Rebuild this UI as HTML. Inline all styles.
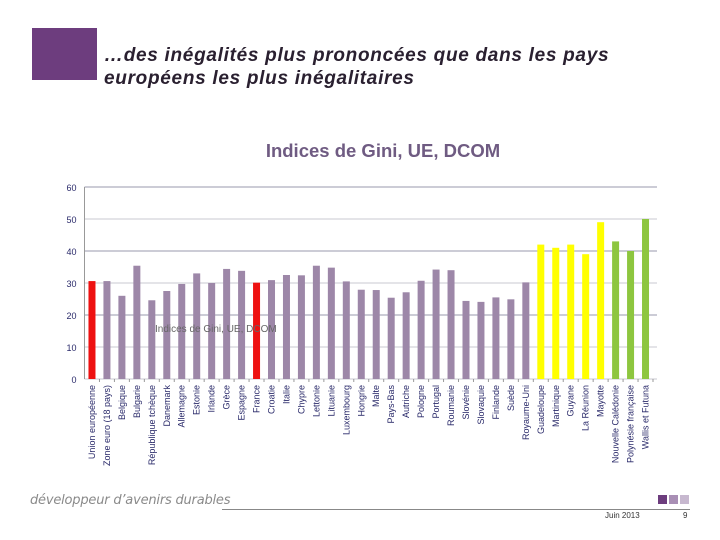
<!DOCTYPE html>
<html><head><meta charset="utf-8"><style>
body{margin:0;width:720px;height:540px;background:#fff;position:relative;overflow:hidden;font-family:"Liberation Sans",sans-serif}
.abs{position:absolute}
</style></head><body>
<div class="abs" style="left:32px;top:28px;width:65px;height:52px;background:#6d3d7e"></div>
<div class="abs" style="left:104px;top:44px;font-size:19px;font-weight:bold;font-style:italic;color:#2a2030;line-height:23px;letter-spacing:0.7px;white-space:nowrap">…des inégalités plus prononcées que dans les pays<br>européens les plus inégalitaires</div>
<svg class="abs" style="left:0;top:0" width="720" height="540">
<text x="383" y="157" text-anchor="middle" font-size="18.5" font-weight="bold" fill="#6f5b82" font-family="Liberation Sans,sans-serif">Indices de Gini, UE, DCOM</text>
<g id="grid"></g><g id="bars"></g><g id="labels"></g>
<text x="155" y="332" font-size="10" fill="#666" font-family="Liberation Sans,sans-serif">Indices de Gini, UE, DCOM</text>
</svg>
<div class="abs" style="left:30px;top:493px;font-size:13px;font-style:italic;color:#8a8a8a;font-family:'DejaVu Sans',sans-serif;letter-spacing:-0.2px">développeur d’avenirs durables</div>
<div class="abs" style="left:222px;top:509px;width:468px;height:1px;background:#888"></div>
<div class="abs" style="left:658px;top:495px;width:9px;height:9px;background:#6d3d7e"></div>
<div class="abs" style="left:669px;top:495px;width:9px;height:9px;background:#a98fb5"></div>
<div class="abs" style="left:680px;top:495px;width:9px;height:9px;background:#c7b8cf"></div>
<div class="abs" style="left:605px;top:511px;font-size:8px;color:#333">Juin 2013</div>
<div class="abs" style="left:683px;top:511px;font-size:8px;color:#333">9</div>
<script>
const categories=["Union européenne","Zone euro (18 pays)","Belgique","Bulgarie","République tchèque","Danemark","Allemagne","Estonie","Irlande","Grèce","Espagne","France","Croatie","Italie","Chypre","Lettonie","Lituanie","Luxembourg","Hongrie","Malte","Pays-Bas","Autriche","Pologne","Portugal","Roumanie","Slovénie","Slovaquie","Finlande","Suède","Royaume-Uni","Guadeloupe","Martinique","Guyane","La Réunion","Mayotte","Nouvelle Calédonie","Polynésie française","Wallis et Futuna"];
const values=[30.6,30.6,26,35.4,24.6,27.5,29.7,33,30,34.4,33.8,30.1,30.9,32.5,32.4,35.4,34.8,30.5,27.9,27.8,25.4,27.1,30.7,34.2,34,24.4,24.1,25.5,24.9,30.2,42,41,42,39,49,43,40,50];
const groups=["ref","eu","eu","eu","eu","eu","eu","eu","eu","eu","eu","ref","eu","eu","eu","eu","eu","eu","eu","eu","eu","eu","eu","eu","eu","eu","eu","eu","eu","eu","dom","dom","dom","dom","dom","com","com","com"];
const yTicks=[0,10,20,30,40,50,60];
const NS="http://www.w3.org/2000/svg";
const x0=84.5,x1=653,y0=379,yTop=187,ymax=60;
const step=(x1-x0)/categories.length;
const y=v=>y0-(v/ymax)*(y0-yTop);
const xc=i=>x0+step*(i+0.5);
const colors={ref:"#ee1111",eu:"#9d87a8",dom:"#ffff00",com:"#8dc63f"};
const grid=document.getElementById('grid'),bars=document.getElementById('bars'),labels=document.getElementById('labels');
function mk(t,a,p){const e=document.createElementNS(NS,t);for(const k in a)e.setAttribute(k,a[k]);p.appendChild(e);return e;}
yTicks.forEach(t=>{
 const l=mk('line',{x1:x0,x2:x1+4,y1:y(t),y2:y(t),stroke:t%20==0&&t>0?"#9a9aae":"#c8c8d0","stroke-width":1},grid);
 
 
 const tx=mk('text',{x:x0-8,y:y(t)+4,"text-anchor":"end","font-size":9,fill:"#2a2a6a","font-family":"Liberation Sans,sans-serif"},grid);
 tx.textContent=t;
 
 
});
const ax=mk('line',{x1:x0,x2:x0,y1:yTop,y2:y0,stroke:"#999"},grid);


categories.forEach((c,i)=>{
 const r=mk('rect',{x:xc(i)-3.5,y:y(values[i]),width:7,height:y0-y(values[i]),fill:colors[groups[i]]},bars);
 
 
 const tk=mk('line',{x1:x0+step*(i+1),x2:x0+step*(i+1),y1:y0,y2:y0+3,stroke:"#999"},grid);
 
 
 const t=mk('text',{x:0,y:0,"text-anchor":"end","font-size":9,fill:"#2a2a6a","font-family":"Liberation Sans,sans-serif",transform:`translate(${xc(i)+3},${y0+6}) rotate(-90)`},labels);
 t.textContent=c;
 
 
});
</script>
</body></html>
